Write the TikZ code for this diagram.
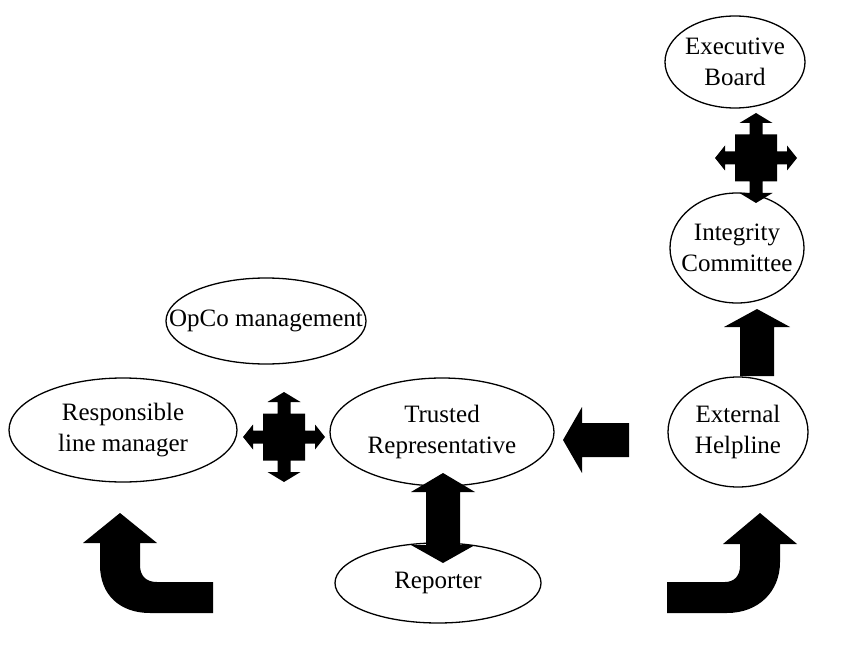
\documentclass[tikz,border=0pt]{standalone}
\usepackage{fontspec}
\setmainfont{Liberation Serif}
\usetikzlibrary{shapes.geometric}
\begin{document}
\begin{tikzpicture}[x=1pt,y=-1pt,
  ell/.style={draw, line width=1.3pt, ellipse, inner sep=0pt},
  lbl/.style={font=\fontsize{25}{31}\selectfont, align=center, inner sep=0pt},
  blk/.style={fill=black, draw=none},
  fourway/.pic={
    \fill (-21,-23.5) -- (-6.5,-23.5) -- (-6.5,-35) -- (-16.5,-35) -- (0,-45) -- (16.5,-35) -- (6.5,-35) -- (6.5,-23.5)
      -- (21,-23.5) -- (21,-6.5) -- (31,-6.5) -- (31,-12.5) -- (41,0) -- (31,12.5) -- (31,6.5) -- (21,6.5)
      -- (21,23.5) -- (6.5,23.5) -- (6.5,35) -- (16.5,35) -- (0,45) -- (-16.5,35) -- (-6.5,35) -- (-6.5,23.5)
      -- (-21,23.5) -- (-21,6.5) -- (-31,6.5) -- (-31,12.5) -- (-41,0) -- (-31,-12.5) -- (-31,-6.5) -- (-21,-6.5) -- cycle;
  }]
\useasboundingbox (0,0) rectangle (861,652);
\fill[white] (0,0) rectangle (861,652);

\node[ell, minimum width=140pt, minimum height=92pt, label={[lbl]center:Executive\\Board}] (exec) at (735,62) {};
\node[ell, minimum width=134pt, minimum height=110pt, label={[lbl]center:Integrity\\Committee}] (integ) at (737,248) {};
\node[ell, minimum width=200pt, minimum height=86pt, label={[lbl]center:OpCo management}] (opco) at (266,321) {};
\node[ell, minimum width=228pt, minimum height=104pt, label={[lbl]center:Responsible\\line manager}] (resp) at (123,430) {};
\node[ell, minimum width=224pt, minimum height=108pt, label={[lbl]center:Trusted\\Representative}] (trust) at (442,432) {};
\node[ell, minimum width=140pt, minimum height=110pt, label={[lbl]center:External\\Helpline}] (help) at (738,432) {};
\node[ell, minimum width=206pt, minimum height=80pt, label={[lbl]center:Reporter}] (rep) at (438,583) {};

% four-way arrows
\pic (fwl) at (284,437) {fourway};
\pic (fwr) at (756,158) {fourway};

% Helpline -> Trusted
\fill[blk] (563,440) -- (582,407) -- (582,423) -- (629,423) -- (629,457) -- (582,457) -- (582,473) -- cycle;

% Helpline -> Integrity
\fill[blk] (757,309) -- (790,327) -- (774,327) -- (774,376) -- (740,376) -- (740,327) -- (724,327) -- cycle;

% Trusted <-> Reporter
\fill[blk] (443,473) -- (475,492) -- (460,492) -- (460,545) -- (475,545) -- (443,563) -- (411,545) -- (426,545) -- (426,492) -- (411,492) -- cycle;

% bent arrow left
\fill[blk] (83,543) -- (120,513) -- (157,543) -- (140,543) -- (140,565)
  .. controls (140,576) and (146,582) .. (157,582) -- (213,582) -- (213,613) -- (150,613)
  .. controls (120,613) and (100,595) .. (100,565) -- (100,543) -- cycle;

% bent arrow right
\fill[blk] (723,544) -- (760,513) -- (797,544) -- (780,544) -- (780,562)
  .. controls (780,592) and (758,613) .. (727,613) -- (667,613) -- (667,582) -- (725,582)
  .. controls (734,582) and (740,576) .. (740,566) -- (740,544) -- cycle;
\end{tikzpicture}
\end{document}
